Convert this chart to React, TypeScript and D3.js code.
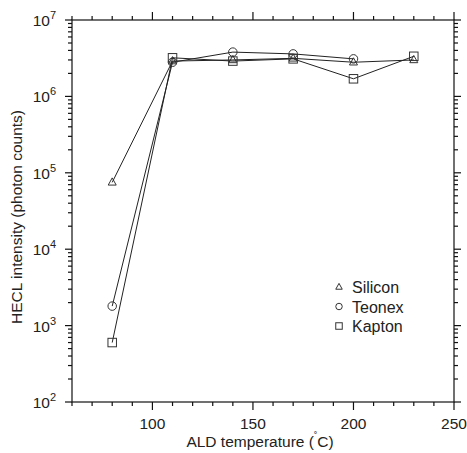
import React from "react";
import * as d3 from "d3";

const temps = [80, 110, 140, 170, 200, 230];
const silicon = [7.5e4, 2.9e6, 3.0e6, 3.15e6, 2.8e6, 3.0e6];
const teonex = [1.8e3, 2.8e6, 3.8e6, 3.6e6, 3.1e6];
const kapton = [6.0e2, 3.2e6, 2.9e6, 3.1e6, 1.7e6, 3.35e6];
const xMajor = [100, 150, 200, 250];
const yExps = [2, 3, 4, 5, 6, 7];
const legendNames = ["Silicon", "Teonex", "Kapton"];

const L = 72, R = 454, T = 20, B = 402;
const FONT = "'Liberation Sans', Arial, sans-serif";

function Marker({ kind, x, y, s }: { kind: string; x: number; y: number; s: number }) {
  const st = { fill: "none", stroke: "#333", strokeWidth: 1 };
  if (kind === "tri") {
    const h = s * 0.9;
    return <path d={`M${x},${y - h * 0.62}L${x + s / 2},${y + h * 0.38}L${x - s / 2},${y + h * 0.38}Z`} {...st} />;
  }
  if (kind === "circ") return <circle cx={x} cy={y} r={s / 2} {...st} />;
  return <rect x={x - s / 2} y={y - s / 2} width={s} height={s} {...st} />;
}

export default function App() {
  const x = d3.scaleLinear().domain([60, 250]).range([L, R]);
  const y = d3.scaleLog().domain([1e2, 1e7]).range([B, T]);
  const line = d3.line<number>().x((_, i) => x(temps[i])).y((v) => y(v));
  const series = [
    { name: "Silicon", vals: silicon, kind: "tri" },
    { name: "Teonex", vals: teonex, kind: "circ" },
    { name: "Kapton", vals: kapton, kind: "sq" },
  ];
  const xMinor = d3.range(60, 251, 10).filter((v) => !xMajor.includes(v));
  const yMinor: number[] = [];
  for (let e = 2; e < 7; e++) for (let m = 2; m <= 9; m++) yMinor.push(m * Math.pow(10, e));

  return (
    <svg width={467} height={453} style={{ position: "absolute", left: 0, top: 0, background: "#fff" }}>
      <g stroke="#111" strokeWidth={1.2} fill="none">
        <rect x={L} y={T} width={R - L} height={B - T} />
        {xMinor.map((v) => (
          <g key={"xm" + v}>
            <line x1={x(v)} x2={x(v)} y1={B} y2={B + 4} />
            <line x1={x(v)} x2={x(v)} y1={T} y2={T - 4} />
          </g>
        ))}
        {xMajor.map((v) => (
          <g key={"xM" + v}>
            <line x1={x(v)} x2={x(v)} y1={B} y2={B + 8} />
            <line x1={x(v)} x2={x(v)} y1={T} y2={T - 8} />
          </g>
        ))}
        {yMinor.map((v) => (
          <g key={"ym" + v}>
            <line x1={L} x2={L - 4} y1={y(v)} y2={y(v)} />
            <line x1={R} x2={R + 4} y1={y(v)} y2={y(v)} />
          </g>
        ))}
        {yExps.map((e) => (
          <g key={"yM" + e}>
            <line x1={L} x2={L - 7} y1={y(Math.pow(10, e))} y2={y(Math.pow(10, e))} />
            <line x1={R} x2={R + 7} y1={y(Math.pow(10, e))} y2={y(Math.pow(10, e))} />
          </g>
        ))}
      </g>
      <g fontFamily={FONT} fontSize={15.5} fill="#222">
        {xMajor.map((v) => (
          <text key={"xl" + v} x={x(v)} y={429} textAnchor="middle">{v}</text>
        ))}
        {yExps.map((e) => (
          <text key={"yl" + e} x={56} y={y(Math.pow(10, e)) + 6} textAnchor="end">
            10<tspan dy={-7} fontSize={11}>{e}</tspan>
          </text>
        ))}
        <text x={260} y={447} textAnchor="middle">ALD temperature (<tspan dy={-7} fontSize={10}>˚</tspan><tspan dy={7}>C)</tspan></text>
        <text transform={`translate(22,${(T + B) / 2 + 6}) rotate(-90)`} textAnchor="middle">HECL intensity (photon counts)</text>
      </g>
      {series.map((s) => (
        <g key={s.name}>
          <path d={line(s.vals) || ""} fill="none" stroke="#222" strokeWidth={1} />
          {s.vals.map((v, i) => (
            <Marker key={i} kind={s.kind} x={x(temps[i])} y={y(v)} s={s.kind === "tri" ? 8 : 8.5} />
          ))}
        </g>
      ))}
      <g fontFamily={FONT} fontSize={16} fill="#222">
        {legendNames.map((n, i) => (
          <g key={n}>
            <Marker kind={series[i].kind} x={339} y={287 + i * 19.5} s={6.5} />
            <text x={352} y={287 + i * 19.5 + 6}>{n}</text>
          </g>
        ))}
      </g>
    </svg>
  );
}
